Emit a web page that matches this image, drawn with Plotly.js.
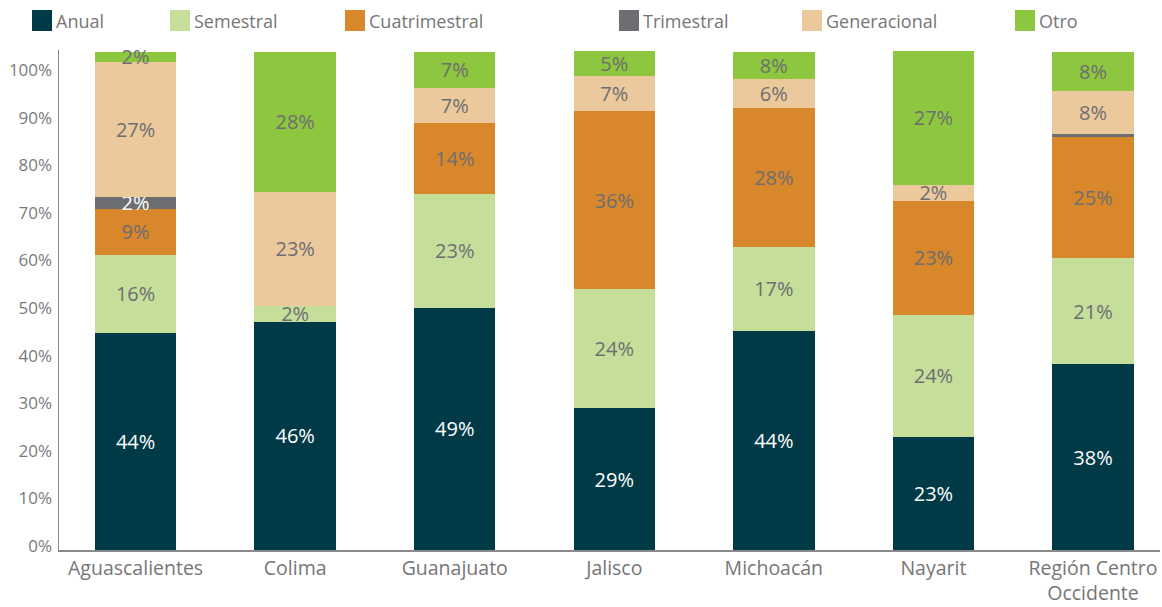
<!DOCTYPE html>
<html>
<head>
<meta charset="utf-8">
<script src="https://cdn.plot.ly/plotly-3.0.1.min.js"></script>
<style>html,body{margin:0;padding:0;background:#fff;}#chart{width:1162px;height:607px;}</style>
</head>
<body>
<div id="chart"></div>
<script>
// Categories
const categories = ["Aguascalientes", "Colima", "Guanajuato", "Jalisco", "Michoacán", "Nayarit", "Región Centro<br>Occidente"];
const seriesNames = ["Anual", "Semestral", "Cuatrimestral", "Trimestral", "Generacional", "Otro"];

// Segment heights (share of each bar, %)
const anual         = [43.6, 45.8, 48.6, 28.5, 44.0, 22.7, 37.3];
const semestral     = [15.7,  3.2, 22.9, 23.9, 16.9, 24.5, 21.3];
const cuatrimestral = [ 9.2,  0.0, 14.3, 35.7, 27.9, 22.9, 24.3];
const trimestral    = [ 2.4,  0.0,  0.0,  0.0,  0.0,  0.0,  0.6];
const generacional  = [27.1, 22.9,  7.0,  7.0,  5.8,  3.2,  8.6];
const otro          = [ 2.0, 28.1,  7.2,  5.0,  5.4, 26.9,  7.8];

// Data labels as printed on the chart
const anualLbl         = ["44%", "46%", "49%", "29%", "44%", "23%", "38%"];
const semestralLbl     = ["16%", "2%", "23%", "24%", "17%", "24%", "21%"];
const cuatrimestralLbl = ["9%", "", "14%", "36%", "28%", "23%", "25%"];
const trimestralLbl    = ["2%", "", "", "", "", "", ""];
const generacionalLbl  = ["27%", "23%", "7%", "7%", "6%", "2%", "8%"];
const otroLbl          = ["2%", "28%", "7%", "5%", "8%", "27%", "8%"];

// Axis tick labels
const yTicks = [0, 10, 20, 30, 40, 50, 60, 70, 80, 90, 100];

const colors = ["#003a47", "#c5df9b", "#d8872b", "#6d6e71", "#ecc99c", "#8dc63f"];
const textColors = ["#ffffff", "#6d6e71", "#6d6e71", "#ffffff", "#6d6e71", "#6d6e71"];
const values = [anual, semestral, cuatrimestral, trimestral, generacional, otro];
const labels = [anualLbl, semestralLbl, cuatrimestralLbl, trimestralLbl, generacionalLbl, otroLbl];

const FONT = "'Open Sans', 'Liberation Sans', sans-serif";

const traces = seriesNames.map((name, i) => ({
  type: "bar",
  name: name,
  x: categories,
  y: values[i],
  text: labels[i],
  textposition: "inside",
  insidetextanchor: "middle",
  textangle: 0,
  textfont: {family: FONT, size: 20, color: textColors[i]},
  marker: {color: colors[i], line: {width: 0}},
  yaxis: "y2",
  hoverinfo: "name+y",
  showlegend: false
}));
// empty trace so the percentage tick axis (y) is created
traces.unshift({type: "scatter", mode: "markers", x: [], y: [], xaxis: "x", yaxis: "y", showlegend: false, hoverinfo: "skip"});

// plot-area geometry in pixels
const L = 59, R = 1160, T = 50, B = 550;
const W = R - L, H = B - T;
const px2x = p => (p - L) / W;
const px2y = p => (B - p) / H;

// custom legend (large square swatches, as in the reference)
const legendStarts = [32, 170, 345, 619, 802, 1015];
const shapes = [];
const annotations = [];
seriesNames.forEach((name, i) => {
  const x0 = legendStarts[i];
  shapes.push({
    type: "rect", xref: "paper", yref: "paper",
    x0: px2x(x0), x1: px2x(x0 + 20), y0: px2y(31), y1: px2y(10),
    fillcolor: colors[i], line: {width: 0}
  });
  annotations.push({
    xref: "paper", yref: "paper", x: px2x(x0 + 22), y: px2y(21),
    xanchor: "left", yanchor: "middle", showarrow: false,
    text: name, font: {family: FONT, size: 18, color: "#767676"}
  });
});

const layout = {
  width: 1162, height: 607,
  margin: {l: L, r: 1162 - R, t: T, b: 607 - B, pad: 0},
  paper_bgcolor: "#ffffff", plot_bgcolor: "#ffffff",
  barmode: "stack",
  bargap: 0.49,
  showlegend: false,
  uniformtext: {minsize: 20, mode: "show"},
  xaxis: {
    type: "category",
    range: [-0.48, 6.42],
    showline: true, linecolor: "#8a8a8a", linewidth: 1.5,
    ticks: "", showgrid: false, zeroline: false,
    tickfont: {family: FONT, size: 19.5, color: "#767676"},
    ticklabelstandoff: 0
  },
  yaxis: {
    range: [-0.84, 104.2],
    tickvals: yTicks,
    ticktext: yTicks.map(v => v + "%"),
    showline: true, linecolor: "#8a8a8a", linewidth: 1.5,
    ticks: "", showgrid: false, zeroline: false,
    tickfont: {family: FONT, size: 17, color: "#7a7a7a"},
    ticklabelstandoff: 2,
    fixedrange: true
  },
  yaxis2: {
    overlaying: "y",
    range: [0, 100.4],
    visible: false,
    fixedrange: true
  },
  shapes: shapes,
  annotations: annotations
};

Plotly.newPlot("chart", traces, layout, {displayModeBar: false, staticPlot: true});
</script>
</body>
</html>
